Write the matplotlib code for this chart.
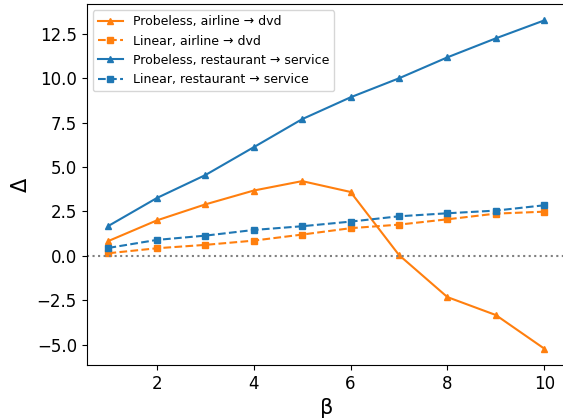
import matplotlib
matplotlib.use("Agg")
import matplotlib.pyplot as plt

beta = [1, 2, 3, 4, 5, 6, 7, 8, 9, 10]
probeless_airline = [0.84, 2.0, 2.90, 3.68, 4.21, 3.60, 0.05, -2.32, -3.33, -5.22]
linear_airline = [0.15, 0.43, 0.62, 0.86, 1.20, 1.56, 1.76, 2.06, 2.38, 2.49]
probeless_restaurant = [1.69, 3.26, 4.55, 6.12, 7.70, 8.93, 10.0, 11.18, 12.25, 13.26]
linear_restaurant = [0.45, 0.90, 1.14, 1.46, 1.67, 1.93, 2.23, 2.40, 2.55, 2.85]

labels = ["Probeless, airline \u2192 dvd", "Linear, airline \u2192 dvd",
          "Probeless, restaurant \u2192 service", "Linear, restaurant \u2192 service"]

fig = plt.figure(figsize=(5.63, 4.18), dpi=100)
ax = fig.add_axes([86.7 / 563, (418 - 365) / 418, (566 - 86.7) / 563, 361 / 418])

ax.plot(beta, probeless_airline, '-^', color='tab:orange', label=labels[0], markersize=5)
ax.plot(beta, linear_airline, '--s', color='tab:orange', label=labels[1], markersize=5)
ax.plot(beta, probeless_restaurant, '-^', color='tab:blue', label=labels[2], markersize=5)
ax.plot(beta, linear_restaurant, '--s', color='tab:blue', label=labels[3], markersize=5)
ax.axhline(0, color='gray', linestyle=':', linewidth=1.5)

ax.set_xticks([2, 4, 6, 8, 10])
ax.tick_params(labelsize=12)
ax.set_xlabel('\u03b2', fontsize=15)
ax.set_ylabel('\u0394', fontsize=15)
ax.legend(loc='upper left', fontsize=9)

fig.savefig('out.png', dpi=100)
